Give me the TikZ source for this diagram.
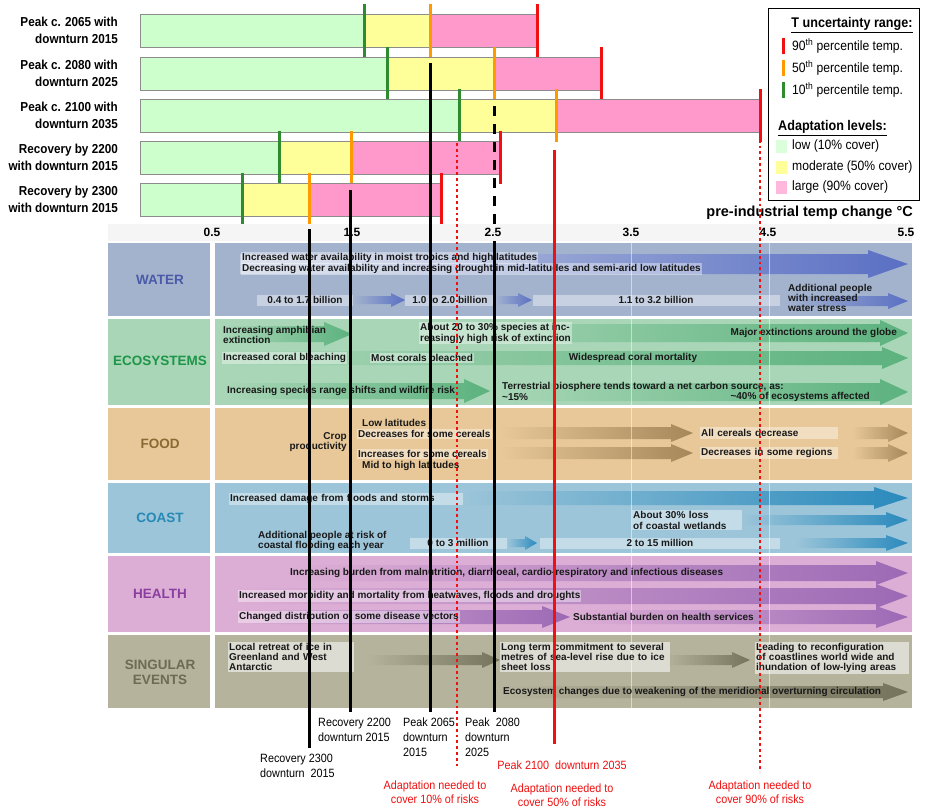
\documentclass[tikz,border=0pt]{standalone}
\usepackage{fontspec}
\setmainfont{Liberation Sans}
\newfontfamily\nf[FakeStretch=0.9]{Liberation Sans}
\definecolor{barG}{HTML}{CCFFCC}
\definecolor{barY}{HTML}{FFFF99}
\definecolor{barP}{HTML}{FF99CC}
\definecolor{tkG}{HTML}{2E8B2E}
\definecolor{tkO}{HTML}{FF9900}
\definecolor{tkR}{HTML}{F01010}
\definecolor{wBg}{HTML}{A3B3CE}
\definecolor{wAr}{HTML}{5A6FC4}
\definecolor{wTx}{HTML}{4A5AA8}
\definecolor{eBg}{HTML}{A8D6B6}
\definecolor{eAr}{HTML}{5CB27E}
\definecolor{eTx}{HTML}{1E9548}
\definecolor{fBg}{HTML}{E8C898}
\definecolor{fAr}{HTML}{A5875A}
\definecolor{fTx}{HTML}{8A6A33}
\definecolor{cBg}{HTML}{9CC5D9}
\definecolor{cAr}{HTML}{2A8ABD}
\definecolor{cTx}{HTML}{2689B5}
\definecolor{hBg}{HTML}{DCAED5}
\definecolor{hAr}{HTML}{9C6AB5}
\definecolor{hTx}{HTML}{8A3FA0}
\definecolor{sBg}{HTML}{B5B39C}
\definecolor{sAr}{HTML}{75735C}
\definecolor{sTx}{HTML}{6E6A55}
\newcommand{\gArrow}[8]{%
  \shade[left color=#7, right color=#8] (#1,#3-#4) -- (#2-#6,#3-#4) -- (#2-#6,#3-#5) -- (#2,#3) -- (#2-#6,#3+#5) -- (#2-#6,#3+#4) -- (#1,#3+#4) -- cycle;}
\tikzset{
  tt/.style={font=\fontsize{10}{10.8}\selectfont\bfseries, inner sep=1pt, align=left, text=black!90},
  tb/.style={tt, fill=white, fill opacity=0.4, text opacity=1},
  tw/.style={tt, anchor=north west, fill=white, fill opacity=0.55, text opacity=1, font=\fontsize{10}{10.2}\selectfont\bfseries},
  rowlab/.style={font=\fontsize{13.5}{15}\selectfont\bfseries, align=center},
  barlab/.style={font=\nf\fontsize{13}{17}\selectfont\bfseries, align=right, anchor=east, inner sep=0pt},
  seg/.style={draw=black!45, line width=0.8pt},
  tick/.style={line width=3pt},
  vline/.style={line width=3pt, black},
  rdot/.style={line width=2.6pt, tkR, dash pattern=on 2.8pt off 3pt},
  botlab/.style={font=\nf\fontsize{12}{15}\selectfont, align=left, anchor=north west, inner sep=0pt},
  redlab/.style={font=\nf\fontsize{12}{14}\selectfont, align=center, text=tkR, inner sep=0pt},
  leg/.style={font=\nf\fontsize{13.5}{15}\selectfont, anchor=west, inner sep=0pt},
  legh/.style={font=\nf\fontsize{14}{16}\selectfont\bfseries, inner sep=0pt},
  axl/.style={font=\fontsize{12}{14}\selectfont\bfseries, inner sep=0pt},
}
\begin{document}
\begin{tikzpicture}[x=1pt,y=-1pt]
\useasboundingbox (0,0) rectangle (929,807);
\fill[white] (0,0) rectangle (929,807);

% ---------- scenario bars ----------
\foreach \yt/\g/\o/\r in {14/364/430/537, 57/387/494/601, 99/459/556/760, 141/279/351/500, 183/242/309/441}{
  \fill[barG] (140,\yt) rectangle (\g,\yt+33);
  \fill[barY] (\g,\yt) rectangle (\o,\yt+33);
  \fill[barP] (\o,\yt) rectangle (\r,\yt+33);
  \draw[seg] (140,\yt) rectangle (\r,\yt+33);
  \draw[tick,tkG] (\g,\yt-10) -- (\g,\yt+43);
  \draw[tick,tkO] (\o,\yt-10) -- (\o,\yt+43);
  \draw[tick,tkR] (\r,\yt-10) -- (\r,\yt+43);
}
\node[barlab] (s1) at (118,30.5) {Peak c. 2065 with\\downturn 2015};
\node[barlab] (s2) at (118,73) {Peak c. 2080 with\\downturn 2025};
\node[barlab] (s3) at (118,115) {Peak c. 2100 with\\downturn 2035};
\node[barlab] (s4) at (118,157) {Recovery by 2200\\with downturn 2015};
\node[barlab] (s5) at (118,199) {Recovery by 2300\\with downturn 2015};

% ---------- legend ----------
\draw[line width=1pt] (768,8) rectangle (919,200);
\node[legh] (lh1) at (852,25) {\underline{T uncertainty range:}};
\draw[tick,tkR] (783,38) -- (783,54);
\draw[tick,tkO] (783,60) -- (783,76);
\draw[tick,tkG] (783,82) -- (783,98);
\node[leg] (l1) at (792,46) {90\textsuperscript{th} percentile temp.};
\node[leg] (l2) at (792,68) {50\textsuperscript{th} percentile temp.};
\node[leg] (l3) at (792,90) {10\textsuperscript{th} percentile temp.};
\node[legh, anchor=west] (lh2) at (778,128) {\underline{Adaptation levels:}};
\fill[barG!70] (776,140) rectangle (787,153);
\fill[barY] (776,161) rectangle (787,174);
\fill[barP!70] (776,181) rectangle (787,194);
\node[leg] (l4) at (792,146) {low (10\% cover)};
\node[leg] (l5) at (792,167) {moderate (50\% cover)};
\node[leg] (l6) at (792,187) {large (90\% cover)};

% ---------- axis ----------
\fill[black!4] (108,224) rectangle (912,241);
\node[font=\fontsize{14.5}{16}\selectfont\bfseries, anchor=east, inner sep=0pt] (axt) at (913,213) {pre-industrial temp change °C};
\foreach \xx/\lab in {212/0.5, 352/1.5, 493/2.5, 631/3.5, 768/4.5, 906/5.5}{
  \node[axl] (ax\lab) at (\xx,232) {\lab};
}

% ---------- table backgrounds ----------
\foreach \ya/\yb/\cc in {243/316/wBg, 319/405/eBg, 408/480/fBg, 483/553/cBg, 556/632/hBg, 635/708/sBg}{
  \fill[\cc] (108,\ya) rectangle (210,\yb);
  \fill[\cc] (215,\ya) rectangle (912,\yb);
}
\node[rowlab, text=wTx] (rw) at (160,280) {WATER};
\node[rowlab, text=eTx] (re) at (160,361) {ECOSYSTEMS};
\node[rowlab, text=fTx] (rf) at (160,444) {FOOD};
\node[rowlab, text=cTx] (rc) at (160,518) {COAST};
\node[rowlab, text=hTx] (rh) at (160,594) {HEALTH};
\node[rowlab, text=sTx] (rs) at (160,672) {SINGULAR\\EVENTS};

% ---------- arrows ----------
\gArrow{240}{908}{264}{10}{14}{40}{wBg!60!white}{wAr}
\gArrow{353}{405}{300}{4}{7}{14}{wBg}{wAr}
\gArrow{495}{532}{300}{4}{7}{14}{wBg}{wAr}
\gArrow{785}{908}{301}{5}{8}{20}{wBg}{wAr}
\gArrow{223}{352}{334}{8}{12}{28}{eBg}{eAr}
\gArrow{420}{908}{333}{9}{13}{28}{eBg}{eAr}
\gArrow{225}{908}{358}{7}{11}{26}{eBg}{eAr}
\gArrow{227}{490}{391}{8}{12}{26}{eBg}{eAr}
\gArrow{500}{908}{392}{9}{13}{28}{eBg}{eAr}
\gArrow{500}{693}{433}{6}{9}{22}{fBg}{fAr}
\gArrow{500}{693}{453}{6}{9}{22}{fBg}{fAr}
\gArrow{852}{908}{433}{6}{9}{20}{fBg}{fAr}
\gArrow{852}{908}{453}{6}{9}{20}{fBg}{fAr}
\gArrow{460}{908}{498}{7}{11}{34}{cBg}{cAr}
\gArrow{742}{908}{520}{5}{8}{22}{cBg}{cAr}
\gArrow{507}{537}{543}{4}{7}{12}{cBg}{cAr}
\gArrow{795}{908}{543}{5}{8}{22}{cBg}{cAr}
\gArrow{290}{908}{573}{8}{12}{32}{hBg}{hAr}
\gArrow{239}{908}{596}{8}{12}{32}{hBg}{hAr}
\gArrow{239}{570}{617}{7}{11}{28}{hBg}{hAr}
\gArrow{575}{908}{617}{7}{11}{32}{hBg}{hAr}
\gArrow{367}{500}{660}{5}{8}{18}{sBg}{sAr}
\gArrow{665}{750}{660}{5}{8}{18}{sBg}{sAr}
\gArrow{502}{908}{692}{6}{9}{25}{sBg}{sAr}

% faint grid lines
\foreach \xx in {350,493,631,769}{
  \draw[white, opacity=0.5, line width=1pt] (\xx,243) -- (\xx,708);
}

% ---------- WATER ----------
\node[tb, anchor=west] (w1) at (241,258) {Increased water availability in moist tropics and high latitudes};
\node[tb, anchor=west] (w2) at (241,269) {Decreasing water availability and increasing drought in mid-latitudes and semi-arid low latitudes};
\node[tb, minimum width=96, minimum height=11] (w3) at (305,300) {0.4 to 1.7 billion};
\node[tb, minimum width=90, minimum height=11] (w4) at (450,300) {1.0 to 2.0 billion};
\node[tb, minimum width=247, minimum height=11] (w5) at (656,300) {1.1 to 3.2 billion};
\node[tt, anchor=west, font=\fontsize{10}{9.8}\selectfont\bfseries] (w6) at (787,298) {Additional people\\with increased\\water stress};

% ---------- ECOSYSTEMS ----------
\node[tt, anchor=west] (e1) at (222,335) {Increasing amphibian\\extinction};
\node[tb, anchor=north west] (e2) at (419,322) {About 20 to 30\% species at inc-\\reasingly high risk of extinction};
\node[tt, anchor=east] (e3) at (898,333) {Major extinctions around the globe};
\node[tb, anchor=west] (e4) at (222,358) {Increased coral bleaching};
\node[tb, anchor=west] (e5) at (370,358) {Most corals bleached};
\node[tt] (e6) at (633,358) {Widespread coral mortality};
\node[tt, anchor=west] (e7) at (226,391) {Increasing species range shifts and wildfire risk};
\node[tt, anchor=west] (e8) at (501,387) {Terrestrial biosphere tends toward a net carbon source, as:};
\node[tt, anchor=west] (e9) at (501,397) {\textasciitilde15\%};
\node[tt, anchor=east] (e10) at (871,397) {\textasciitilde40\% of ecosystems affected};

% ---------- FOOD ----------
\node[tt, anchor=east, align=right] (f1) at (348,442) {Crop\\productivity};
\node[tt, anchor=west] (f2) at (361,423) {Low latitudes};
\node[tb, anchor=west] (f3) at (357,434) {Decreases for some cereals};
\node[tb, anchor=west] (f4) at (357,454) {Increases for some cereals};
\node[tt, anchor=west] (f5) at (361,466) {Mid to high latitudes};
\node[tb, anchor=west, text width=136, minimum height=12] (f6) at (700,433) {All cereals decrease};
\node[tb, anchor=west, text width=136, minimum height=12] (f7) at (700,453) {Decreases in some regions};

% ---------- COAST ----------
\node[tb, anchor=west, text width=232] (c1) at (229,499) {Increased damage from floods and storms};
\node[tb, anchor=north west, text width=108] (c2) at (632,510) {About 30\% loss\\of coastal wetlands};
\node[tt, anchor=west] (c3) at (257,541) {Additional people at risk of\\coastal flooding each year};
\node[tb, minimum width=97, minimum height=11] (c4) at (458,543) {0 to 3 million};
\node[tb, minimum width=240, minimum height=11] (c5) at (660,543) {2 to 15 million};

% ---------- HEALTH ----------
\node[tt, anchor=west] (h1) at (289,573) {Increasing burden from malnutrition, diarrhoeal, cardio-respiratory and infectious diseases};
\node[tb, anchor=west] (h2) at (238,596) {Increased morbidity and mortality from heatwaves, floods and droughts};
\node[tb, anchor=west] (h3) at (238,617) {Changed distribution of some disease vectors};
\node[tt, anchor=west] (h4) at (572,617) {Substantial burden on health services};

% ---------- SINGULAR EVENTS ----------
\node[tw, text width=124] (g1) at (228,642) {Local retreat of ice in\\Greenland and West\\Antarctic};
\node[tw, text width=168] (g2) at (500,642) {Long term commitment to several\\metres of sea-level rise due to ice\\sheet loss};
\node[tw, text width=152] (g3) at (755,642) {Leading to reconfiguration\\of coastlines world wide and\\inundation of low-lying areas};
\node[tt, anchor=west] (g4) at (502,692) {Ecosystem changes due to weakening of the meridional overturning circulation};

% ---------- vertical markers ----------
\coordinate (k1t) at (430,63);  \coordinate (k1b) at (430,712);
\coordinate (k2d) at (494,106); \coordinate (k2m) at (494,232);
\coordinate (k2t) at (494,241); \coordinate (k2b) at (494,712);
\coordinate (k3t) at (350,190); \coordinate (k3b) at (350,712);
\coordinate (k4t) at (309,229); \coordinate (k4b) at (309,748);
\coordinate (r1t) at (457,143); \coordinate (r1b) at (457,767);
\coordinate (r2t) at (554,150); \coordinate (r2b) at (554,744);
\coordinate (r3t) at (760,134); \coordinate (r3b) at (760,772);
\draw[vline] (k1t) -- (k1b);
\draw[vline, dash pattern=on 10pt off 8pt] (k2d) -- (k2m);
\draw[vline] (k2t) -- (k2b);
\draw[vline] (k3t) -- (k3b);
\draw[vline] (k4t) -- (k4b);
\draw[rdot] (r1t) -- (r1b);
\draw[line width=3pt, tkR] (r2t) -- (r2b);
\draw[rdot] (r3t) -- (r3b);

% ---------- bottom labels ----------
\node[botlab] (b1) at (318,718) {Recovery 2200\\downturn 2015};
\node[botlab] (b2) at (403,718) {Peak 2065\\downturn\\2015};
\node[botlab] (b3) at (465,718) {Peak~ 2080\\downturn\\2025};
\node[botlab] (b4) at (260,754) {Recovery 2300\\downturn~ 2015};
\node[redlab] (b5) at (562,765) {Peak 2100~ downturn 2035};
\node[redlab] (a1) at (435,792) {Adaptation needed to\\cover 10\% of risks};
\node[redlab] (a2) at (562,795) {Adaptation needed to\\cover 50\% of risks};
\node[redlab] (a3) at (760,792) {Adaptation needed to\\cover 90\% of risks};
\end{tikzpicture}
\end{document}
